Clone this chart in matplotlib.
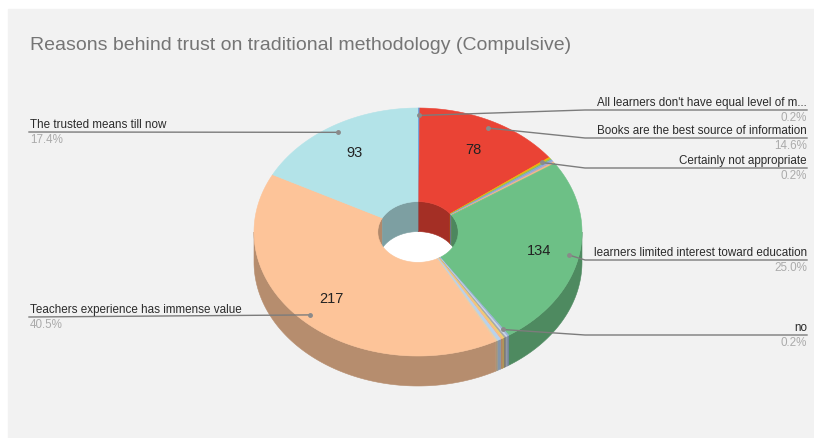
import numpy as np
import matplotlib.pyplot as plt
from matplotlib.patches import Polygon, Rectangle
from matplotlib.colors import to_rgb

plt.rcParams['font.family'] = ['Liberation Sans', 'DejaVu Sans']

title = "Reasons behind trust on traditional methodology (Compulsive)"

# slices, clockwise from 12 o'clock
labels = [
    "All learners don't have equal level of m...",
    "Books are the best source of information",
    "Certainly not appropriate", "", "", "", "",
    "learners limited interest toward education",
    "no", "", "", "", "", "", "",
    "Teachers experience has immense value",
    "The trusted means till now",
]
values = [1, 78, 1, 1, 1, 1, 1, 134, 1, 1, 1, 1, 1, 2, 1, 217, 93]
colors = [
    "#5b8fd9", "#ea4335", "#f4b400", "#8fbf5a", "#7fa7e0", "#b0a8c8", "#fbb77f",
    "#6dc086", "#9ab3d8", "#c9d4e8", "#a7a7a7", "#f2d06b", "#f6b98a", "#b8d2ec", "#e8cfa8",
    "#fdc499", "#b3e3e8",
]

# which slices get a callout: side and y of the underline
callouts = {0: ("right", 111), 1: ("right", 139), 2: ("right", 169),
            7: ("right", 261), 8: ("right", 336),
            15: ("left", 318), 16: ("left", 133)}

W, H = 814, 439
cx, cy = 418, 233
rx, ry = 164, 124
hole = 0.245
depth = 30

fig = plt.figure(figsize=(W / 100, H / 100), dpi=100, facecolor="white")
ax = fig.add_axes([0, 0, 1, 1])
ax.set_xlim(0, W)
ax.set_ylim(H, 0)
ax.axis("off")
ax.add_patch(Rectangle((8, 10), W - 8, H - 10, color="#f2f2f2", zorder=0))


def pt(theta, f, dy=0.0):
    th = np.radians(theta)
    return cx + f * rx * np.sin(th), cy - f * ry * np.cos(th) + dy


def arc(a0, a1, f, dy=0.0):
    n = max(2, int(abs(a1 - a0) * 2))
    t = np.linspace(a0, a1, n)
    x, y = pt(t, f, dy)
    return np.column_stack([x, y])


def shade(c, k):
    return tuple(v * k for v in to_rgb(c))


def wall(a0, a1, f, color, z):
    top = arc(a0, a1, f)
    bot = arc(a1, a0, f, depth)
    ax.add_patch(Polygon(np.vstack([top, bot]), closed=True, fc=color, ec=color,
                         lw=0.4, zorder=z))


total = sum(values)
edges = np.concatenate([[0], np.cumsum(values)]) / total * 360

# white floor seen through the hole
hx, hy = pt(np.linspace(0, 360, 200), hole)
ax.add_patch(Polygon(np.column_stack([hx, hy]), closed=True, fc="white",
                     ec="none", zorder=0.5))

for i, c in enumerate(colors):
    a0, a1 = edges[i], edges[i + 1]
    # back half of the hole's inner wall
    for lo, hi in ((0, 90), (270, 360)):
        s, e = max(a0, lo), min(a1, hi)
        if e > s:
            wall(s, e, hole, shade(c, 0.7), 1)
    # front half of the outer wall
    s, e = max(a0, 90), min(a1, 270)
    if e > s:
        wall(s, e, 1.0, shade(c, 0.72), 2)
    # top face
    poly = np.vstack([arc(a0, a1, 1.0), arc(a1, a0, hole)])
    ax.add_patch(Polygon(poly, closed=True, fc=c, ec=c, lw=0.4, zorder=3))

    mid = (a0 + a1) / 2
    if values[i] / total > 0.05:
        tx, ty = pt(mid, 0.75)
        ax.text(tx, ty, str(values[i]), ha="center", va="center", fontsize=10.5,
                color="#222222", zorder=5)

    if i in callouts:
        side, ly = callouts[i]
        dx, dy = pt(mid, 0.94)
        pct = f"{values[i] / total * 100:.1f}%"
        if side == "right":
            xs, ys = [dx, max(dx, 585), 807], [dy, ly, ly]
            tx, ha = 807, "right"
        else:
            xs, ys = [dx, 29], [dy, ly]
            tx, ha = 30, "left"
        ax.plot(xs, ys, color="#7c7c7c", lw=1, zorder=4)
        ax.plot([dx], [dy], "o", ms=2.5, color="#8a8a8a", zorder=4)
        ax.text(tx, ly - 1.5, labels[i], ha=ha, va="bottom", fontsize=8.4,
                color="#2b2b2b", zorder=5)
        ax.text(tx, ly + 1.5, pct, ha=ha, va="top", fontsize=8.4,
                color="#ababab", zorder=5)

ax.text(30, 45, title, ha="left", va="center", fontsize=14, color="#757575")

fig.savefig("out.png", dpi=100, facecolor=fig.get_facecolor())
